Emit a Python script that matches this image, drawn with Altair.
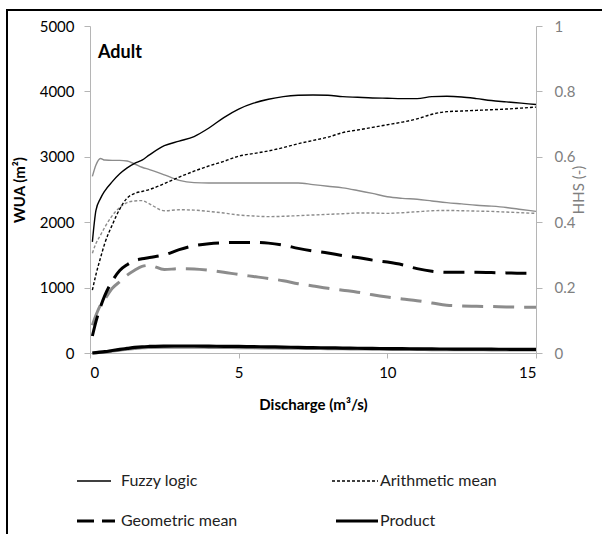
import altair as alt
import pandas as pd

# ---------------- data ----------------
discharge = [0.08, 0.2, 0.35, 0.5, 0.75, 1.0, 1.25, 1.5, 1.75, 2.0, 2.5, 3.0,
             3.5, 4.0, 4.5, 5.0, 5.5, 6.0, 6.5, 7.0, 7.5, 8.0, 8.5, 9.0, 9.5,
             10.0, 10.5, 11.0, 11.5, 12.0, 12.5, 13.0, 13.5, 14.0, 14.5, 15.0]

wua_fuzzy = [1700, 2180, 2360, 2480, 2620, 2740, 2830, 2900, 2950, 3030, 3170, 3240,
             3310, 3440, 3600, 3730, 3820, 3880, 3920, 3940, 3945, 3940, 3920, 3910,
             3900, 3895, 3890, 3890, 3920, 3925, 3915, 3890, 3860, 3840, 3820, 3800]
wua_arith = [960, 1200, 1450, 1680, 1960, 2200, 2370, 2440, 2470, 2500, 2590, 2690,
             2780, 2860, 2930, 3010, 3050, 3090, 3140, 3200, 3250, 3300, 3370, 3410,
             3450, 3490, 3530, 3580, 3650, 3690, 3700, 3710, 3720, 3730, 3745, 3760]
wua_geom = [260, 480, 700, 880, 1100, 1260, 1350, 1410, 1440, 1460, 1500, 1580,
            1640, 1670, 1685, 1690, 1690, 1680, 1650, 1600, 1560, 1530, 1490, 1460,
            1420, 1390, 1350, 1290, 1250, 1235, 1235, 1235, 1230, 1225, 1220, 1220]
wua_product = [0, 5, 12, 20, 38, 55, 70, 85, 95, 100, 105, 107,
               107, 105, 102, 100, 97, 94, 90, 86, 82, 79, 76, 73,
               70, 68, 66, 64, 62, 61, 60, 59, 58, 57, 56, 55]

hhs_fuzzy = [0.54, 0.575, 0.595, 0.59, 0.589, 0.589, 0.587, 0.578, 0.568, 0.561, 0.545, 0.528,
             0.521, 0.52, 0.52, 0.52, 0.52, 0.52, 0.52, 0.52, 0.515, 0.51, 0.505, 0.497,
             0.488, 0.478, 0.473, 0.47, 0.465, 0.46, 0.456, 0.452, 0.449, 0.445, 0.439, 0.433]
hhs_arith = [0.305, 0.335, 0.36, 0.385, 0.42, 0.445, 0.46, 0.465, 0.466, 0.456, 0.435, 0.438,
             0.437, 0.433, 0.428, 0.422, 0.419, 0.417, 0.418, 0.42, 0.422, 0.424, 0.426, 0.428,
             0.428, 0.427, 0.429, 0.432, 0.435, 0.436, 0.435, 0.434, 0.433, 0.431, 0.429, 0.427]
hhs_geom = [0.085, 0.115, 0.146, 0.165, 0.198, 0.218, 0.238, 0.253, 0.265, 0.268, 0.255, 0.258,
            0.257, 0.253, 0.247, 0.24, 0.234, 0.228, 0.221, 0.212, 0.205, 0.198, 0.192, 0.186,
            0.178, 0.171, 0.165, 0.16, 0.153, 0.146, 0.144, 0.143, 0.142, 0.141, 0.14, 0.14]
hhs_product = [0, 0.001, 0.002, 0.003, 0.006, 0.009, 0.012, 0.014, 0.016, 0.017, 0.018, 0.018,
               0.018, 0.0175, 0.017, 0.0165, 0.016, 0.0155, 0.015, 0.0145, 0.014, 0.0135, 0.013, 0.0125,
               0.012, 0.0115, 0.011, 0.011, 0.0105, 0.0105, 0.01, 0.01, 0.0098, 0.0096, 0.0094, 0.0092]

series_names = ["Fuzzy logic", "Arithmetic mean", "Geometric mean", "Product"]
wua_values = [wua_fuzzy, wua_arith, wua_geom, wua_product]
hhs_values = [hhs_fuzzy, hhs_arith, hhs_geom, hhs_product]

wua_ticks = [0, 1000, 2000, 3000, 4000, 5000]
hhs_ticks = [0, 0.2, 0.4, 0.6, 0.8, 1]
x_ticks = [0, 5, 10, 15]

# ---------------- styling ----------------
FONT = "Lato"
BLACK = "#000000"
GRAY = "#8c8c8c"
AXIS_GRAY = "#b5b5b5"
styles = {
    "Fuzzy logic": dict(strokeWidth=1.4),
    "Arithmetic mean": dict(strokeWidth=1.4, strokeDash=[3, 2]),
    "Geometric mean": dict(strokeWidth=3, strokeDash=[21, 10]),
    "Product": dict(strokeWidth=3.2),
}

x_enc = alt.X(
    "Discharge:Q",
    scale=alt.Scale(domain=[0, 15], nice=False, zero=False),
    axis=alt.Axis(values=x_ticks, title="Discharge (m³/s)", grid=False,
                  domainColor=AXIS_GRAY, tickColor=AXIS_GRAY, tickSize=5,
                  labelPadding=7, labelColor=BLACK, labelFontSize=15,
                  titleFontSize=15, titleFontWeight="bold", titlePadding=17,
                  titleColor=BLACK),
)

wua_axis = alt.Axis(values=wua_ticks, orient="left", title="WUA (m²)", grid=False,
                    domainColor=AXIS_GRAY, tickColor=AXIS_GRAY, tickSize=6,
                    labelPadding=10, labelColor=BLACK, labelFontSize=15, format="d",
                    titleFontSize=15, titleFontWeight="bold", titlePadding=12,
                    titleColor=BLACK)
hhs_axis = alt.Axis(values=hhs_ticks, orient="right", title="HHS (-)", grid=False,
                    domainColor=AXIS_GRAY, tickColor=AXIS_GRAY, tickSize=6,
                    labelPadding=12, labelColor="#7f7f7f", labelFontSize=15, format="~g",
                    titleFontSize=15, titleFontWeight="normal", titlePadding=12,
                    titleColor="#7f7f7f", titleAngle=270)


def group(values, field, axis, domain, color):
    layers = []
    for name, vals in zip(series_names, values):
        df = pd.DataFrame({"Discharge": discharge, field: vals, "series": name})
        layers.append(
            alt.Chart(df).mark_line(color=color, interpolate="monotone",
                                    **styles[name]).encode(
                x=x_enc,
                y=alt.Y(f"{field}:Q", scale=alt.Scale(domain=domain, nice=False),
                        axis=axis),
            )
        )
    return alt.layer(*layers)


hhs_group = group(hhs_values, "HHS", hhs_axis, [0, 1], GRAY)
wua_group = group(wua_values, "WUA", wua_axis, [0, 5000], BLACK)

anchor = pd.DataFrame({"a": [0]})

adult = alt.Chart(anchor).mark_text(
    text="Adult", font=FONT, fontSize=18, fontWeight="bold", align="left",
    baseline="alphabetic", color=BLACK
).encode(x=alt.value(8), y=alt.value(32))

# legend (drawn below the chart, as in the reference)
legend_items = [
    ("Fuzzy logic", -13, 21, 31, 455),
    ("Arithmetic mean", 242, 288, 290, 455),
    ("Geometric mean", -13, 25, 31, 495),
    ("Product", 246, 288, 290, 495),
]
legend_layers = []
for name, x0, x1, xt, yy in legend_items:
    st = dict(styles[name])
    if name == "Geometric mean":
        st["strokeDash"] = [17, 8]
    legend_layers.append(
        alt.Chart(anchor).mark_rule(color=BLACK, **st).encode(
            x=alt.value(x0), x2=alt.value(x1), y=alt.value(yy))
    )
    legend_layers.append(
        alt.Chart(anchor).mark_text(text=name, font=FONT, fontSize=16, align="left",
                                    baseline="middle", color="#222222").encode(
            x=alt.value(xt), y=alt.value(yy))
    )

frame = [
    alt.Chart(anchor).mark_rule(color=BLACK, strokeWidth=2).encode(
        x=alt.value(-83), y=alt.value(-17), y2=alt.value(520)),
    alt.Chart(anchor).mark_rule(color=BLACK, strokeWidth=2).encode(
        x=alt.value(-84), x2=alt.value(520), y=alt.value(-16)),
]

chart = alt.layer(
    hhs_group, wua_group, adult, *legend_layers, *frame
).resolve_scale(
    y="independent"
).properties(
    width=446, height=327,
    autosize=alt.AutoSizeParams(type="none"),
    padding={"left": 90, "top": 26, "right": 66, "bottom": 181},
    background="white",
).configure_view(
    stroke=None
).configure_axis(
    labelFont=FONT, titleFont=FONT
).configure_text(
    font=FONT
)

chart.save("out.html", embed_options={"renderer": "svg", "actions": False})
